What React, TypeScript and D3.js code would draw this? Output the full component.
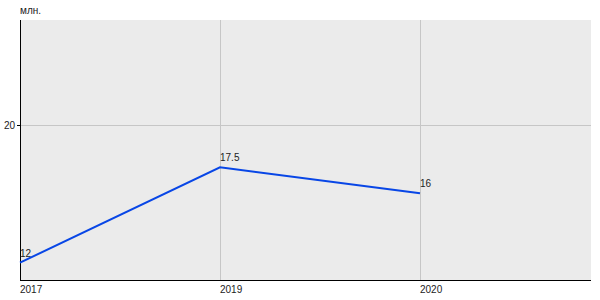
import React from "react";
import * as d3 from "d3";

const years = ["2017", "2019", "2020"];
const values = [12, 17.5, 16];
const valueLabels = ["12", "17.5", "16"];
const yTicks = [20];
const yUnit = "млн.";

export default function App() {
  const W = 600, H = 300;
  const left = 20, top = 20, right = 591, bottom = 280;
  const x = d3.scalePoint<string>().domain(years).range([left, left + 400]);
  const y = d3.scaleLinear().domain([11, 26]).range([bottom, top]);
  const line = d3.line<number>().x((_, i) => x(years[i])!).y((d) => y(d));
  const font = "Arial, 'Liberation Sans', sans-serif";
  return (
    <svg width={W} height={H} style={{ position: "absolute", left: 0, top: 0 }} fontFamily={font}>
      <rect x={left} y={top} width={right - left} height={bottom - top} fill="#ebebeb" />
      {years.map((yr) => (
        <line key={yr} x1={x(yr)! + 0.5} x2={x(yr)! + 0.5} y1={top} y2={bottom} stroke="#c6c6c6" strokeWidth={1} />
      ))}
      {yTicks.map((t) => (
        <g key={t}>
          <line x1={left} x2={right} y1={Math.round(y(t)) + 1.5} y2={Math.round(y(t)) + 1.5} stroke="#c6c6c6" />
          <line x1={left - 3} x2={left} y1={Math.round(y(t)) + 1.5} y2={Math.round(y(t)) + 1.5} stroke="#000" />
          <text x={left - 5} y={y(t) + 5} textAnchor="end" fontSize={10} fill="#222">{t}</text>
        </g>
      ))}
      <line x1={left + 0.5} x2={left + 0.5} y1={top} y2={bottom} stroke="#000" />
      <line x1={left} x2={right} y1={bottom + 0.5} y2={bottom + 0.5} stroke="#000" />
      <text x={left} y={14} fontSize={10} fill="#222">{yUnit}</text>
      {years.map((yr) => (
        <text key={yr} x={x(yr)!} y={293} fontSize={10} fill="#222">{yr}</text>
      ))}
      <path d={line(values)!} fill="none" stroke="#0846e6" strokeWidth={2} />
      {values.map((v, i) => (
        <text key={i} x={x(years[i])!} y={y(v) - 6} fontSize={10} fill="#222">{valueLabels[i]}</text>
      ))}
    </svg>
  );
}
